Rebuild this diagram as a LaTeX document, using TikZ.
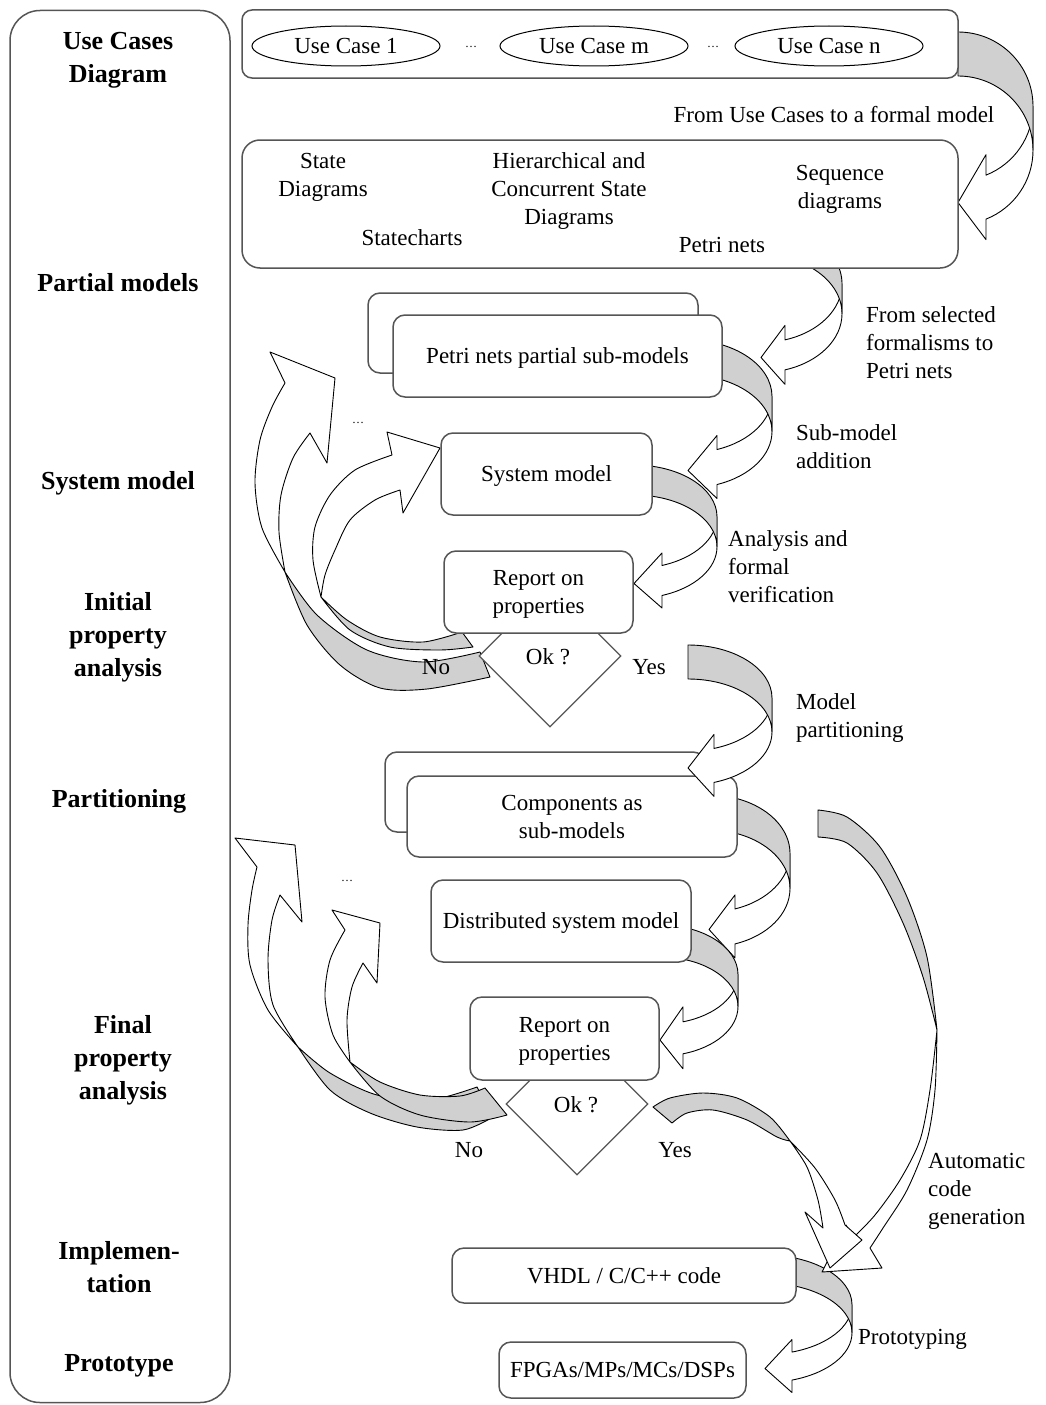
\documentclass[tikz,border=0pt]{standalone}
\usepackage{fontspec}
\setmainfont{Liberation Serif}
\usetikzlibrary{shapes.geometric}
\definecolor{bandgray}{HTML}{D0D0D0}
\definecolor{boxline}{HTML}{555555}

% Curved block arrow (curved-right-arrow geometry, anchor edge at the origin,
% band swinging out to the left and coming back with a head pointing right).
% #1 scope options, #2 width, #3 height, #4 band thickness, #5 head width, #6 head length
\newcommand\bandarrow[6]{%
\begin{scope}[#1]
\pgfmathsetmacro\bw{#2}%
\pgfmathsetmacro\bh{#3}%
\pgfmathsetmacro\bt{#4}%
\pgfmathsetmacro\ba{#5}%
\pgfmathsetmacro\bl{#6}%
\pgfmathsetmacro\br{\bh/2-(\bt+\ba)/4}%
\pgfmathsetmacro\bn{180-acos(\bl/\bw)}%
\pgfmathsetmacro\bdy{\br*sin(\bn)}%
\pgfmathsetmacro\bd{(\ba-\bt)/2}%
\pgfmathsetmacro\byf{\br+\bdy}%
\pgfmathsetmacro\bys{\br+\bt+\bdy}%
\pgfmathsetmacro\byt{\bh-\ba/2}%
\filldraw[bandfront] (-\bw,\br) arc[start angle=180,end angle=\bn,x radius=\bw,y radius=\br]
  -- (-\bl,\byf-\bd) -- (0,\byt) -- (-\bl,\bys+\bd) -- (-\bl,\bys)
  arc[start angle=\bn,end angle=180,x radius=\bw,y radius=\br] -- cycle;
\filldraw[bandback] (0,\bt) arc[start angle=270,end angle=180,x radius=\bw,y radius=\br]
  -- (-\bw,\br) arc[start angle=180,end angle=270,x radius=\bw,y radius=\br] -- cycle;
\end{scope}}

\begin{document}
\begin{tikzpicture}[x=1pt,y=-1pt,
  every node/.style={font=\fontsize{23}{28}\selectfont, inner sep=0pt},
  stage/.style={font=\fontsize{26}{33}\selectfont\bfseries, align=center},
  box/.style={draw=boxline, line width=1.5pt, fill=white, rounded corners=12pt, align=center, text depth=0pt},
  usecase/.style={draw=black, line width=1pt, ellipse, minimum width=188, minimum height=40, text depth=0pt},
  decision/.style={draw=boxline, line width=1.2pt, fill=white, diamond, minimum width=142, minimum height=142},
  bandfront/.style={fill=white, draw=black, line width=0.9pt, line join=round},
  bandback/.style={fill=bandgray, draw=black, line width=0.9pt, line join=round},
  note/.style={align=left, anchor=west},
  dots/.style={font=\fontsize{12}{14}\selectfont}]
\useasboundingbox (0,0) rectangle (1045,1405);

% ---------- stage column ----------
\node[draw=boxline, line width=1.5pt, rounded corners=30pt, minimum width=220, minimum height=1392] (stages) at (120,706.5) {};
\node[stage] (s1) at (118,60) {Use Cases\\Diagram};
\node[stage] (s2) at (118,283) {Partial models};
\node[stage] (s3) at (118,483) {System model};
\node[stage] (s4) at (118,637) {Initial\\property\\analysis};
\node[stage] (s5) at (119,801) {Partitioning};
\node[stage] (s6) at (123,1060) {Final\\property\\analysis};
\node[stage] (s7) at (119,1267) {Implemen-\\tation};
\node[stage] (s8) at (119,1366) {Prototype};

% ---------- curved arrows on the right ----------
\bandarrow{shift={(958,32)},xscale=-1}{75}{213}{44}{85}{28}
\bandarrow{shift={(761,225)},xscale=-1}{81}{162}{30}{59}{24}
\bandarrow{shift={(688,340)},xscale=-1}{84}{162}{35}{63}{29}
\bandarrow{shift={(634,465)},xscale=-1}{83}{146}{30}{55}{28}
\bandarrow{shift={(709,795)},xscale=-1}{81}{166}{35}{63}{26}
\bandarrow{shift={(660,925)},xscale=-1}{78}{146}{32}{62}{23}
\bandarrow{shift={(765,1255)},xscale=-1}{87}{140}{28}{53}{27}

% ---------- feedback loops (initial analysis) ----------
\filldraw[bandback] plot[smooth] coordinates {(490,677) (427,689) (380,688) (340,665) (307,625) (285,572)}
  -- plot[smooth] coordinates {(285,572) (317,615) (367,650) (423,662) (480,652)} -- cycle;
\filldraw[bandfront] plot[smooth] coordinates {(285,572) (262,528) (255,483) (260,440) (272,407) (285,383)}
  -- (270,352) -- (335,378) -- (327,463) -- (310,433)
  -- plot[smooth] coordinates {(310,433) (293,458) (281,495) (279,532) (285,572)} -- cycle;
\filldraw[bandback] plot[smooth] coordinates {(473,647) (440,650) (390,647) (350,630) (321,597)}
  -- plot[smooth] coordinates {(321,597) (347,620) (380,637) (423,642) (462,632)} -- cycle;
\filldraw[bandfront] plot[smooth] coordinates {(321,597) (313,560) (315,527) (330,495) (355,470) (392,455)}
  -- (387,432) -- (440,448) -- (403,513) -- (400,490)
  -- plot[smooth] coordinates {(400,490) (375,500) (350,520) (335,550) (325,575) (321,597)} -- cycle;

% ---------- feedback loops (final analysis) ----------
\filldraw[bandback] plot[smooth] coordinates {(493,1117) (463,1130) (417,1127) (370,1113) (330,1090) (298,1047)}
  -- plot[smooth] coordinates {(298,1047) (330,1073) (377,1095) (430,1100) (477,1087)} -- cycle;
\filldraw[bandfront] plot[smooth] coordinates {(298,1047) (268,1010) (250,965) (248,925) (252,890) (257,867)}
  -- (235,838) -- (295,845) -- (302,922) -- (280,895)
  -- plot[smooth] coordinates {(280,895) (272,920) (268,960) (273,1005) (298,1047)} -- cycle;
\filldraw[bandback] plot[smooth] coordinates {(507,1115) (470,1122) (420,1115) (380,1096) (350,1062)}
  -- plot[smooth] coordinates {(350,1062) (380,1082) (420,1095) (460,1096) (485,1088)} -- cycle;
\filldraw[bandfront] plot[smooth] coordinates {(350,1062) (333,1035) (325,997) (330,960) (345,930)}
  -- (332,910) -- (380,923) -- (377,983) -- (363,963)
  -- plot[smooth] coordinates {(363,963) (352,987) (347,1020) (350,1062)} -- cycle;

% ---------- arrows into the code box ----------
\filldraw[bandback] plot[smooth] coordinates {(818,810) (847,817) (880,847) (907,897) (927,957) (937,1030)}
  -- plot[smooth] coordinates {(937,1030) (923,977) (903,923) (877,873) (847,843) (818,837)} -- cycle;
\filldraw[bandfront] plot[smooth] coordinates {(937,1030) (935,1090) (927,1140) (907,1190) (883,1228) (870,1248)}
  -- (882,1268) -- (822,1272) -- (846,1225) -- (853,1238)
  -- plot[smooth] coordinates {(853,1238) (875,1215) (900,1180) (920,1140) (930,1090) (937,1030)} -- cycle;
\filldraw[bandback] plot[smooth] coordinates {(653,1107) (670,1098) (703,1093) (737,1098) (770,1117) (790,1141)}
  -- plot[smooth] coordinates {(790,1141) (777,1137) (747,1120) (713,1110) (687,1113) (672,1123)} -- cycle;
\filldraw[bandfront] plot[smooth] coordinates {(790,1141) (807,1167) (818,1200) (823,1228)}
  -- (805,1212) -- (830,1268) -- (862,1240) -- (845,1225)
  -- plot[smooth] coordinates {(845,1225) (835,1200) (815,1168) (790,1141)} -- cycle;

% ---------- top boxes ----------
\node[box, rounded corners=10pt, minimum width=716, minimum height=68] (ucbox) at (600,44) {};
\node[usecase] (uc1) at (346,46) {Use Case 1};
\node[dots] (d1) at (471,47) {\dots};
\node[usecase] (ucm) at (594,46) {Use Case m};
\node[dots] (d2) at (713,47) {\dots};
\node[usecase] (ucn) at (829,46) {Use Case n};
\node (l1) at (834,115) {From Use Cases to a formal model};

\node[box, rounded corners=18pt, minimum width=716, minimum height=128] (fmbox) at (600,204) {};
\node[align=center] (f1) at (323,177) {State\\Diagrams};
\node[align=center] (f2) at (569,191) {Hierarchical and\\Concurrent State\\Diagrams};
\node[align=center] (f3) at (840,189) {Sequence\\diagrams};
\node (f4) at (412,238) {Statecharts};
\node (f5) at (722,245) {Petri nets};

% ---------- model boxes ----------
\node[box, minimum width=330, minimum height=80] (pnback) at (533,333) {};
\node[box, minimum width=329, minimum height=82] (pnbox) at (557.5,356) {Petri nets partial sub-models};
\node[note] (l2) at (866,343) {From selected\\formalisms to\\Petri nets};
\node[box, minimum width=211, minimum height=82] (smbox) at (546.5,474) {System model};
\node[note] (l3) at (796,447) {Sub-model\\addition};
\node[note] (l4) at (728,567) {Analysis and\\formal\\verification};
\node[dots] (d3) at (358,423) {\dots};

\node[decision] (ok1) at (550,656) {};
\node[text depth=0pt] (ok1t) at (548,657) {Ok ?};
\node[box, minimum width=189, minimum height=82] (rep1) at (538.5,592) {Report on\\properties};
\node[text depth=0pt] (no1) at (436,667) {No};
\node[text depth=0pt] (yes1) at (649,667) {Yes};

\node[box, minimum width=320, minimum height=80] (compback) at (545,792) {};
\node[box, minimum width=330, minimum height=81] (compbox) at (572,816.5) {Components as\\sub-models};
\bandarrow{shift={(688,645)},xscale=-1}{84}{154}{34}{62}{26}
\node[note] (l5) at (796,718) {Model\\partitioning};

\node[box, minimum width=260, minimum height=82] (distbox) at (561,921) {Distributed system model};
\node[dots] (d4) at (347,881) {\dots};

\node[decision] (ok2) at (577,1104) {};
\node[text depth=0pt] (ok2t) at (576,1105) {Ok ?};
\node[box, minimum width=189, minimum height=83] (rep2) at (564.5,1038.5) {Report on\\properties};
\node[text depth=0pt] (no2) at (469,1150) {No};
\node[text depth=0pt] (yes2) at (675,1150) {Yes};
\node[note] (l6) at (928,1191) {Automatic\\code\\generation};

\node[box, minimum width=344, minimum height=55] (vhdl) at (624,1275.5) {VHDL / C/C++ code};
\node[box, minimum width=247, minimum height=56] (fpga) at (622.5,1370) {FPGAs/MPs/MCs/DSPs};
\node[note] (l7) at (858,1339) {Prototyping};
\end{tikzpicture}
\end{document}
